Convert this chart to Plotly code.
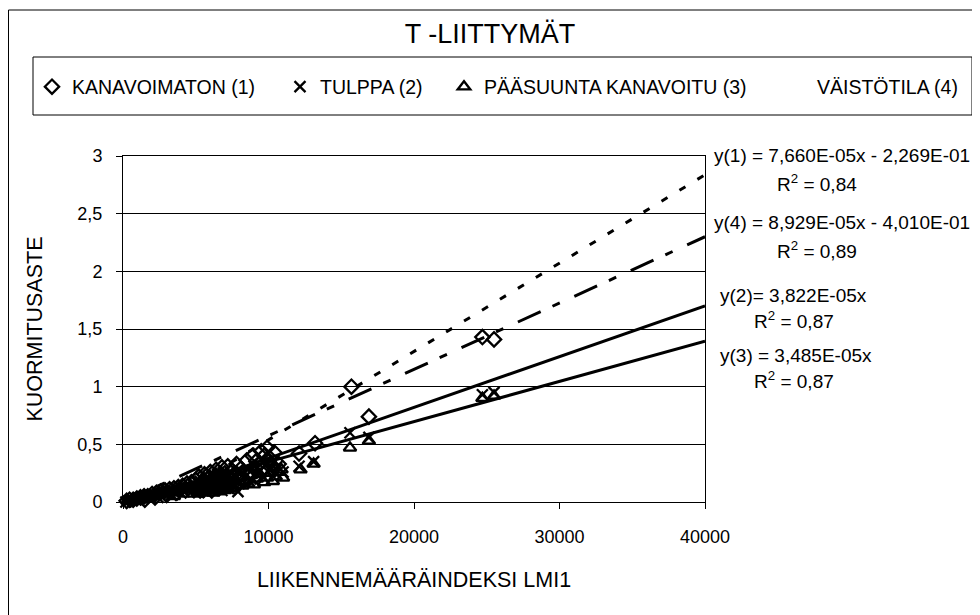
import plotly.graph_objects as go

# ---------------- data ----------------
kan_x = [250, 450, 700, 950, 1200, 1450, 1500, 1700, 2000, 2200, 2300, 2600, 2900, 3000,
         3200, 3500, 3700, 3800, 4100, 4300, 4400, 4700, 4900, 5000, 5200, 5300, 5400,
         5600, 5600, 5800, 5900, 6000, 6100, 6200, 6300, 6400, 6600, 6600, 6800, 6900,
         7000, 7200, 7200, 7500, 7500, 7700, 7800, 8000, 8100, 8300, 8500, 8700, 8900,
         9100, 9200, 9400, 9500, 9600, 9700, 9900, 10000, 10100, 10300, 10400, 10700,
         12100, 13200, 15700, 16900, 24700, 25500]
kan_y = [0.01, 0.02, 0.02, 0.03, 0.04, 0.05, 0.02, 0.05, 0.07, 0.04, 0.08, 0.09, 0.10, 0.06,
         0.11, 0.12, 0.08, 0.13, 0.14, 0.10, 0.16, 0.17, 0.12, 0.19, 0.22, 0.10, 0.17,
         0.24, 0.13, 0.20, 0.15, 0.26, 0.10, 0.21, 0.17, 0.28, 0.23, 0.12, 0.30, 0.19,
         0.25, 0.31, 0.15, 0.27, 0.20, 0.13, 0.33, 0.22, 0.29, 0.18, 0.36, 0.26, 0.40,
         0.30, 0.36, 0.33, 0.44, 0.28, 0.40, 0.47, 0.35, 0.38, 0.31, 0.43, 0.33,
         0.42, 0.51, 1.00, 0.74, 1.43, 1.41]

tul_x = [200, 400, 650, 900, 1150, 1400, 1650, 1900, 2200, 2400, 2500, 2800, 3100, 3300,
         3400, 3700, 4000, 4200, 4300, 4600, 4700, 4900, 5100, 5200, 5300, 5500, 5500,
         5700, 5800, 5900, 6000, 6100, 6200, 6300, 6400, 6500, 6600, 6700, 6800, 6900,
         7000, 7100, 7200, 7300, 7400, 7600, 7700, 7900, 8000, 8200, 8400, 8600, 8800,
         9000, 9200, 9400, 9600, 9800, 10000, 10200, 10600, 11000,
         12100, 13100, 15600, 16900, 24700, 25500]
tul_y = [0.00, 0.01, 0.02, 0.02, 0.03, 0.04, 0.05, 0.05, 0.06, 0.04, 0.07, 0.08, 0.09, 0.06,
         0.10, 0.11, 0.12, 0.09, 0.13, 0.14, 0.11, 0.15, 0.12, 0.08, 0.18, 0.14, 0.11,
         0.20, 0.09, 0.16, 0.14, 0.22, 0.11, 0.18, 0.16, 0.24, 0.13, 0.19, 0.10, 0.26,
         0.15, 0.21, 0.12, 0.17, 0.25, 0.23, 0.14, 0.09, 0.18, 0.26, 0.22, 0.28, 0.20,
         0.31, 0.24, 0.27, 0.22, 0.33, 0.26, 0.29, 0.31, 0.26,
         0.31, 0.35, 0.60, 0.56, 0.93, 0.95]

paa_x = [300, 550, 800, 1050, 1300, 1550, 1800, 2100, 2400, 2700, 3000, 3300, 3500, 3600,
         3900, 4200, 4400, 4500, 4800, 5100, 5200, 5300, 5400, 5500, 5600, 5700, 5900,
         6000, 6100, 6200, 6300, 6400, 6500, 6600, 6700, 6800, 6900, 7000, 7100, 7200,
         7400, 7500, 7700, 7800, 8000, 8200, 8400, 8600, 8800, 9000, 9200, 9400, 9700,
         9900, 10100, 10300, 10500, 10700, 10900, 11000, 12200, 13100,
         15600, 16900, 24700, 25500]
paa_y = [0.01, 0.01, 0.02, 0.03, 0.03, 0.04, 0.05, 0.05, 0.06, 0.07, 0.08, 0.08, 0.05, 0.09,
         0.10, 0.11, 0.07, 0.12, 0.12, 0.14, 0.07, 0.10, 0.09, 0.15, 0.08, 0.12, 0.17,
         0.10, 0.13, 0.08, 0.19, 0.11, 0.14, 0.09, 0.20, 0.12, 0.16, 0.10, 0.22, 0.13,
         0.17, 0.12, 0.19, 0.15, 0.21, 0.14, 0.18, 0.16, 0.23, 0.15, 0.20, 0.24, 0.17,
         0.21, 0.25, 0.18, 0.22, 0.26, 0.28, 0.21, 0.28, 0.33,
         0.47, 0.53, 0.90, 0.92]

vai_x = [400, 1200, 2200, 3300, 4500, 5600, 6600, 7600, 8700, 9800]
vai_y = [0.02, 0.05, 0.09, 0.15, 0.21, 0.27, 0.33, 0.38, 0.45, 0.52]

series_names = ["KANAVOIMATON (1)", "TULPPA (2)", "PÄÄSUUNTA KANAVOITU (3)", "VÄISTÖTILA (4)"]

# trendlines as drawn: slope, intercept, x-extent
trend_slope = [7.66e-05, 4.40e-05, 3.485e-05, 5.75e-05]
trend_icpt = [-0.2269, -0.06, 0.0, 0.0]
trend_x0 = [0, 0, 0, 0]
trend_x1 = [40000, 40000, 40000, 40000]

eq_texts = ["y(1) = 7,660E-05x - 2,269E-01", "R<sup>2</sup> = 0,84",
            "y(4) = 8,929E-05x - 4,010E-01", "R<sup>2</sup> = 0,89",
            "y(2)= 3,822E-05x", "R<sup>2</sup> = 0,87",
            "y(3) = 3,485E-05x", "R<sup>2</sup> = 0,87"]

y_tickvals = [0, 0.5, 1, 1.5, 2, 2.5, 3]
y_ticktext = ["0", "0,5", "1", "1,5", "2", "2,5", "3"]
x_tickvals = [0, 10000, 20000, 30000, 40000]
x_ticktext = ["0", "10000", "20000", "30000", "40000"]

# ---------------- layout helpers ----------------
FONT = "Liberation Sans, Arial, sans-serif"
W, H = 980, 615
OFF = 8                                 # page offset of the figure (body margin)
PL, PR, PT, PB = 123, 705, 156, 502     # plot-area box in page pixels


def fx(px):
    return (px - PL) / (PR - PL)


def fy(py):
    return (PB - py) / (PB - PT)


fig = go.Figure()

# trendlines
dash_styles = ["7px,14px", "solid", "solid", "25px,13px,8px,16px"]
for i in range(4):
    xs = [trend_x0[i], trend_x1[i]]
    ys = [trend_slope[i] * v + trend_icpt[i] for v in xs]
    fig.add_trace(go.Scatter(x=xs, y=ys, mode="lines", showlegend=False,
                             line=dict(color="black", width=3, dash=dash_styles[i]),
                             hoverinfo="skip"))

mk = dict(size=11, color="black", line=dict(color="black", width=2.3))
fig.add_trace(go.Scatter(x=kan_x, y=kan_y, mode="markers", name=series_names[0],
                         marker=dict(mk, symbol="diamond-open"), cliponaxis=False,
                         legend="legend"))
fig.add_trace(go.Scatter(x=tul_x, y=tul_y, mode="markers", name=series_names[1],
                         marker=dict(mk, symbol="x-thin-open"), cliponaxis=False,
                         legend="legend2"))
fig.add_trace(go.Scatter(x=paa_x, y=paa_y, mode="markers", name=series_names[2],
                         marker=dict(mk, symbol="triangle-up-open"), cliponaxis=False,
                         legend="legend3"))
fig.add_trace(go.Scatter(x=vai_x, y=vai_y, mode="markers", name=series_names[3],
                         marker=dict(size=8, color="rgba(0,0,0,0)", opacity=0,
                                     line=dict(width=0, color="rgba(0,0,0,0)")),
                         legend="legend4"))

leg_common = dict(orientation="h", xanchor="left", yanchor="middle", y=fy(87),
                  bgcolor="rgba(0,0,0,0)", borderwidth=0, itemwidth=30,
                  font=dict(family=FONT, size=19.5, color="black"))
fig.update_layout(
    legend=dict(leg_common, x=fx(32)),
    legend2=dict(leg_common, x=fx(280)),
    legend3=dict(leg_common, x=fx(444)),
    legend4=dict(leg_common, x=fx(777)),
)

annos = []
eq_pos = [(712, 155), (775, 183), (712, 222), (775, 250),
          (718, 295), (752, 320), (718, 355), (752, 380)]
for t, (px, py) in zip(eq_texts, eq_pos):
    annos.append(dict(text=t, x=fx(px), y=fy(py), xref="paper", yref="paper",
                      xanchor="left", yanchor="middle", showarrow=False,
                      font=dict(family=FONT, size=19, color="black")))

shapes = [
    dict(type="rect", xref="paper", yref="paper", x0=fx(8.5), x1=fx(977), y0=fy(640), y1=fy(10),
         line=dict(color="black", width=1), layer="below"),
    dict(type="rect", xref="paper", yref="paper", x0=fx(33), x1=fx(972), y0=fy(115), y1=fy(57),
         line=dict(color="black", width=1), layer="below"),
]

fig.update_layout(
    width=W, height=H,
    margin=dict(l=PL - OFF, r=W - (PR - OFF), t=PT - OFF, b=H - (PB - OFF), pad=0),
    paper_bgcolor="white", plot_bgcolor="white",
    font=dict(family=FONT, size=18, color="black"),
    title=dict(text="T -LIITTYMÄT", x=(490 - OFF) / W, xref="container", xanchor="center",
               y=1 - (34 - OFF) / H, yref="container", yanchor="middle",
               font=dict(family=FONT, size=27, color="black")),
    xaxis=dict(range=[0, 40000], tickvals=x_tickvals, ticktext=x_ticktext,
               showgrid=False, zeroline=False, showline=True, linecolor="black", linewidth=1,
               mirror=True, ticks="outside", ticklen=6, tickcolor="black",
               ticklabelstandoff=12,
               title=dict(text="LIIKENNEMÄÄRÄINDEKSI LMI1", standoff=26,
                          font=dict(family=FONT, size=21.5))),
    yaxis=dict(range=[0, 3], tickvals=y_tickvals, ticktext=y_ticktext,
               showgrid=True, gridcolor="black", gridwidth=1, zeroline=False,
               showline=True, linecolor="black", linewidth=1, mirror=True,
               ticks="outside", ticklen=6, tickcolor="black", ticklabelstandoff=10,
               title=dict(text="KUORMITUSASTE", standoff=28,
                          font=dict(family=FONT, size=21.5))),
    annotations=annos,
    shapes=shapes,
    showlegend=True,
)

fig.write_html("out.html")
